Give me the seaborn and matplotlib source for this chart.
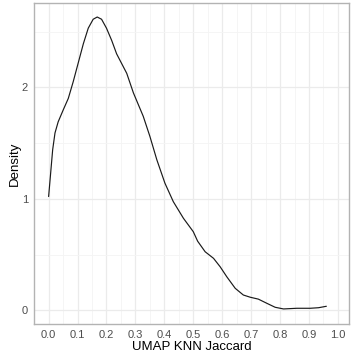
import matplotlib
matplotlib.use("Agg")
import matplotlib.pyplot as plt
import seaborn as sns
import pandas as pd

# Density curve
jaccard = [0.0, 0.007, 0.014, 0.022, 0.033, 0.051, 0.068, 0.085, 0.102, 0.12,
           0.137, 0.154, 0.168, 0.183, 0.20, 0.218, 0.235, 0.255, 0.27, 0.293,
           0.327, 0.35, 0.374, 0.402, 0.431, 0.466, 0.50, 0.515, 0.541, 0.57,
           0.593, 0.616, 0.645, 0.673, 0.697, 0.725, 0.754, 0.783, 0.812, 0.858,
           0.904, 0.933, 0.96]
density = [1.02, 1.23, 1.44, 1.59, 1.69, 1.80, 1.90, 2.05, 2.215, 2.39,
           2.53, 2.61, 2.63, 2.61, 2.53, 2.42, 2.30, 2.20, 2.125, 1.95,
           1.74, 1.56, 1.35, 1.14, 0.974, 0.825, 0.705, 0.62, 0.525, 0.466,
           0.39, 0.30, 0.197, 0.137, 0.117, 0.10, 0.063, 0.027, 0.012, 0.018,
           0.018, 0.023, 0.036]
x_ticks = [0.0, 0.1, 0.2, 0.3, 0.4, 0.5, 0.6, 0.7, 0.8, 0.9, 1.0]
y_ticks = [0, 1, 2]

df = pd.DataFrame({"UMAP KNN Jaccard": jaccard, "Density": density})

sns.set_style("white")
plt.rcParams['font.family'] = ['Liberation Sans', 'DejaVu Sans']
plt.rcParams['lines.solid_joinstyle'] = 'round'

fig = plt.figure(figsize=(3.51, 3.60), dpi=100)
ax = fig.add_axes([34.3/351, 1-324/360, (349.5-34.3)/351, (324-3.3)/360])

sns.lineplot(data=df, x="UMAP KNN Jaccard", y="Density", ax=ax,
             color="#1a1a1a", linewidth=0.85)

ax.set_xlim(-0.0495, 1.04)
ax.set_ylim(-0.123, 2.753)
ax.set_xticks(x_ticks)
ax.set_xticklabels([f"{v:.1f}" for v in x_ticks])
ax.set_yticks(y_ticks)
ax.set_yticklabels([str(v) for v in y_ticks])
ax.set_xticks([v + 0.05 for v in x_ticks[:-1]], minor=True)
ax.set_yticks([0.5, 1.5, 2.5], minor=True)

ax.grid(which="major", color="#EBEBEB", linewidth=0.9)
ax.grid(which="minor", color="#F4F4F4", linewidth=0.6)
ax.set_axisbelow(True)

for s in ax.spines.values():
    s.set_color("#B3B3B3")
    s.set_linewidth(1.0)

ax.tick_params(axis="both", which="major", length=3.0, width=0.8, color="#B3B3B3",
               labelsize=8, labelcolor="#4D4D4D", pad=1.5)
ax.tick_params(axis="both", which="minor", length=0)

ax.set_xlabel("UMAP KNN Jaccard", fontsize=9.5, color="black", labelpad=0.5)
ax.set_ylabel("Density", fontsize=9.5, color="black", labelpad=0.5)

fig.savefig("out.png", dpi=100)
